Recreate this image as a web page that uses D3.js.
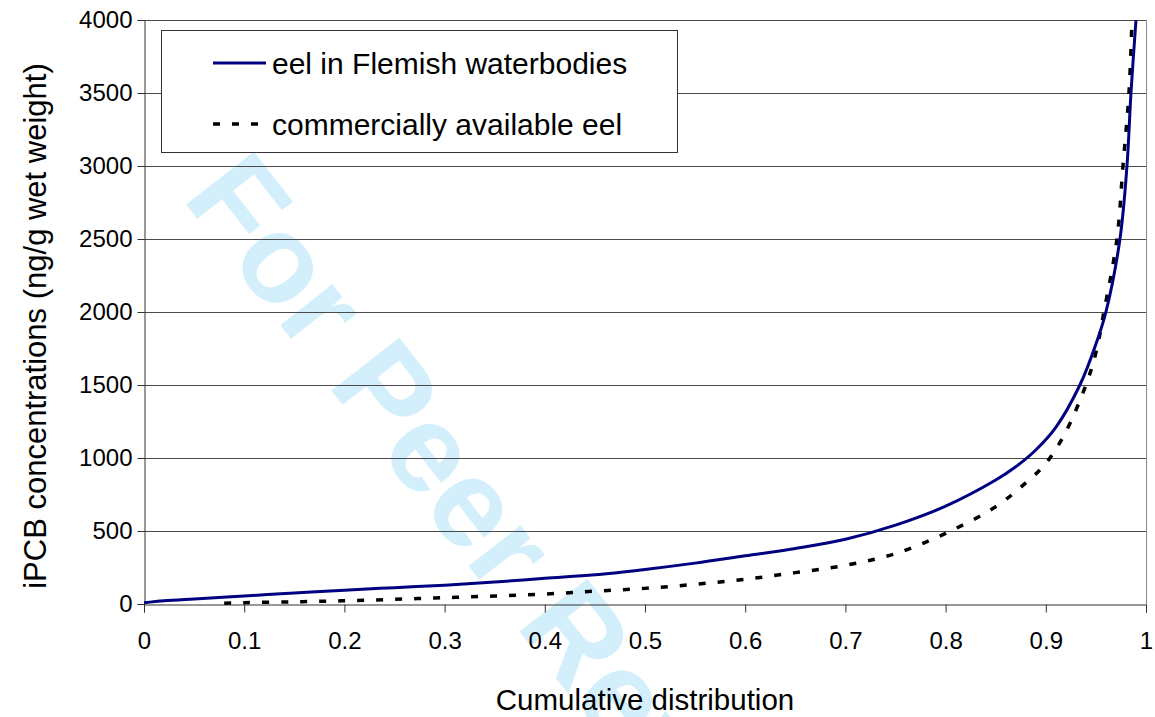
<!DOCTYPE html>
<html>
<head>
<meta charset="utf-8">
<script src="https://cdn.jsdelivr.net/npm/d3@7"></script>
<style>
  body { margin: 0; background: #fff; }
  svg { display: block; font-family: "Liberation Sans", Arial, sans-serif; }
</style>
</head>
<body>
<svg id="chart"></svg>
<script>
// cumulative distribution (x) vs iPCB concentration (y)
const flemishX = [0, 0.02, 0.05, 0.1, 0.15, 0.2, 0.25, 0.3, 0.35, 0.4, 0.45, 0.5, 0.55, 0.6, 0.65, 0.7, 0.75, 0.8, 0.85, 0.87, 0.89, 0.91, 0.934, 0.95, 0.96, 0.974, 0.981, 0.985, 0.99];
const flemishY = [8, 22, 35, 55, 75, 95, 112, 128, 150, 176, 200, 237, 280, 330, 380, 443, 540, 670, 849, 940, 1055, 1210, 1500, 1780, 2000, 2500, 3000, 3500, 4000];

const commercialX = [0.08, 0.1, 0.15, 0.2, 0.25, 0.3, 0.35, 0.4, 0.45, 0.5, 0.55, 0.6, 0.65, 0.7, 0.75, 0.8, 0.85, 0.88, 0.9, 0.92, 0.94, 0.95, 0.958, 0.971, 0.977, 0.983, 0.986];
const commercialY = [5, 9, 15, 22, 32, 43, 55, 68, 88, 107, 135, 169, 215, 265, 345, 484, 666, 830, 963, 1180, 1500, 1720, 2000, 2500, 3000, 3500, 4000];

const xTicks = [0, 0.1, 0.2, 0.3, 0.4, 0.5, 0.6, 0.7, 0.8, 0.9, 1];
const yTicks = [0, 500, 1000, 1500, 2000, 2500, 3000, 3500, 4000];

const legendLabels = ['eel in Flemish waterbodies', 'commercially available eel'];

const width = 1155, height = 717;
const plot = { left: 144, right: 1146, top: 20, bottom: 604 };

const svg = d3.select('#chart')
  .attr('width', width)
  .attr('height', height);

// watermark behind everything
svg.append('text')
  .attr('transform', 'translate(181,198) rotate(52)')
  .attr('font-size', 125)
  .attr('font-weight', 'bold')
  .attr('fill', '#d4effc')
  .text('For Peer Review');

const x = d3.scaleLinear().domain([0, 1]).range([plot.left, plot.right]);
const y = d3.scaleLinear().domain([0, 4000]).range([plot.bottom, plot.top]);

// gridlines
svg.append('g')
  .selectAll('line')
  .data(yTicks.slice(1))
  .join('line')
  .attr('x1', plot.left).attr('x2', plot.right)
  .attr('y1', d => Math.round(y(d)) + 0.5)
  .attr('y2', d => Math.round(y(d)) + 0.5)
  .attr('stroke', '#4a4a4a')
  .attr('stroke-width', 1);

// right border
svg.append('line')
  .attr('x1', plot.right + 0.5).attr('x2', plot.right + 0.5)
  .attr('y1', plot.top).attr('y2', plot.bottom)
  .attr('stroke', '#888');

// axes
const xAxis = svg.append('g')
  .attr('transform', `translate(0,${plot.bottom + 0.5})`)
  .call(d3.axisBottom(x).tickValues(xTicks).tickSize(8).tickPadding(19).tickFormat(d3.format('')));

const yAxis = svg.append('g')
  .attr('transform', `translate(${plot.left + 0.5},0)`)
  .call(d3.axisLeft(y).tickValues(yTicks).tickSize(7).tickPadding(5).tickFormat(d3.format('')));

[xAxis, yAxis].forEach(g => {
  g.select('.domain').attr('stroke', '#333');
  g.selectAll('.tick line').attr('stroke', '#333');
  g.selectAll('text')
    .attr('font-size', 24)
    .attr('font-family', '"Liberation Sans", Arial, sans-serif')
    .attr('fill', '#000');
});

// curves
const line = d3.line()
  .x(d => x(d[0]))
  .y(d => y(d[1]))
  .curve(d3.curveCatmullRom.alpha(0.5));

svg.append('path')
  .datum(commercialX.map((v, i) => [v, commercialY[i]]))
  .attr('d', line)
  .attr('fill', 'none')
  .attr('stroke', '#000')
  .attr('stroke-width', 3.5)
  .attr('stroke-dasharray', '7,12');

svg.append('path')
  .datum(flemishX.map((v, i) => [v, flemishY[i]]))
  .attr('d', line)
  .attr('fill', 'none')
  .attr('stroke', '#000080')
  .attr('stroke-width', 3);

// axis titles
svg.append('text')
  .attr('x', 645)
  .attr('y', 710)
  .attr('text-anchor', 'middle')
  .attr('font-size', 29.5)
  .text('Cumulative distribution');

svg.append('text')
  .attr('transform', 'translate(46,326) rotate(-90)')
  .attr('text-anchor', 'middle')
  .attr('font-size', 31)
  .text('iPCB concentrations (ng/g wet weight)');

// legend
const legend = svg.append('g');
legend.append('rect')
  .attr('x', 161.5).attr('y', 30.5)
  .attr('width', 516).attr('height', 122)
  .attr('fill', '#fff')
  .attr('stroke', '#333');

const legendRows = [63, 124];
legendLabels.forEach((label, i) => {
  legend.append('line')
    .attr('x1', 213).attr('x2', 266)
    .attr('y1', legendRows[i]).attr('y2', legendRows[i])
    .attr('stroke', i === 0 ? '#000080' : '#000')
    .attr('stroke-width', i === 0 ? 3 : 3.5)
    .attr('stroke-dasharray', i === 0 ? null : '7,12');
  legend.append('text')
    .attr('x', 272)
    .attr('y', legendRows[i])
    .attr('dy', '0.35em')
    .attr('font-size', 30)
    .text(label);
});
</script>
</body>
</html>
